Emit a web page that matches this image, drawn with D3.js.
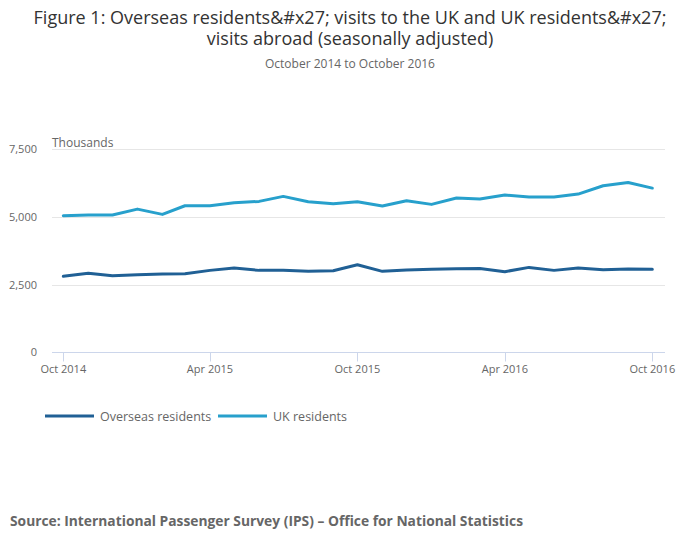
<!DOCTYPE html>
<html><head><meta charset="utf-8">
<script src="https://cdn.jsdelivr.net/npm/d3@7"></script>
<style>body{margin:0;background:#fff;font-family:"Open Sans",sans-serif;}</style>
</head><body><svg id="c" width="700" height="549"></svg>
<script>
const months = ["2014-10","2014-11","2014-12","2015-01","2015-02","2015-03","2015-04","2015-05","2015-06","2015-07","2015-08","2015-09","2015-10","2015-11","2015-12","2016-01","2016-02","2016-03","2016-04","2016-05","2016-06","2016-07","2016-08","2016-09","2016-10"];
const overseas = [2806,2917,2830,2867,2891,2904,3027,3113,3027,3027,2990,3015,3235,2990,3039,3064,3088,3100,2978,3137,3027,3113,3052,3076,3064];
const ukResidents = [5044,5070,5070,5290,5095,5415,5415,5525,5575,5760,5563,5490,5560,5402,5600,5465,5698,5661,5809,5735,5735,5846,6153,6276,6067];
const yTicks = [0,2500,5000,7500];
const xTickMonths = ["2014-10","2015-04","2015-10","2016-04","2016-10"];
const seriesNames = ["Overseas residents","UK residents"];
const colors = ["#206095","#27a0cc"];

const svg = d3.select("#c");
const parse = d3.timeParse("%Y-%m");
const dates = months.map(parse);
const x = d3.scaleTime().domain([dates[0], dates[dates.length-1]]).range([63.3, 652.3]);
const y = d3.scaleLinear().domain([0,7500]).range([352.3,149.3]);
const plotL = 52, plotR = 665;

// title
const titleLines = ["Figure 1: Overseas residents&#x27; visits to the UK and UK residents&#x27;","visits abroad (seasonally adjusted)"];
svg.append("g").selectAll("text").data(titleLines).join("text")
  .attr("x",350).attr("y",(d,i)=>24+i*21).attr("text-anchor","middle").attr("fill","#333").style("font-size","18px").text(d=>d);
svg.append("text").attr("x",350).attr("y",68).attr("text-anchor","middle").attr("fill","#666").style("font-size","12px").text("October 2014 to October 2016");

// grid
svg.append("g").selectAll("line").data(yTicks.filter(d=>d>0)).join("line")
  .attr("x1",plotL).attr("x2",plotR).attr("y1",d=>Math.round(y(d))+0.5).attr("y2",d=>Math.round(y(d))+0.5)
  .attr("stroke","#e6e6e6").attr("stroke-width",1);

// y labels
svg.append("g").selectAll("text").data(yTicks).join("text")
  .attr("x",37).attr("y",d=>y(d)+4).attr("text-anchor","end").attr("fill","#666").style("font-size","11px")
  .text(d=>d3.format(",")(d));
svg.append("text").attr("x",52).attr("y",147).attr("fill","#666").style("font-size","12px").text("Thousands");

// x axis
const xa = svg.append("g").attr("transform",`translate(0,${Math.round(y(0))+0.5})`);
xa.append("line").attr("x1",plotL).attr("x2",plotR).attr("stroke","#ccd6eb");
const xt = xTickMonths.map(parse);
xa.selectAll("line.t").data(xt).join("line").attr("class","t")
  .attr("x1",d=>Math.round(x(d))+0.5).attr("x2",d=>Math.round(x(d))+0.5).attr("y1",0).attr("y2",9).attr("stroke","#ccd6eb");
xa.selectAll("text").data(xt).join("text").attr("x",d=>x(d)).attr("y",20).attr("text-anchor","middle")
  .attr("fill","#666").style("font-size","11px").text(d3.timeFormat("%b %Y"));

// lines
const line = d3.line().x((d,i)=>x(dates[i])).y(d=>y(d));
[overseas, ukResidents].forEach((s,k)=>{
  svg.append("path").datum(s).attr("d",line).attr("fill","none").attr("stroke",colors[k])
    .attr("stroke-width",3).attr("stroke-linejoin","round").attr("stroke-linecap","round");
});

// legend
const legX = [45,218];
seriesNames.forEach((n,k)=>{
  svg.append("line").attr("x1",legX[k]).attr("x2",legX[k]+49).attr("y1",416).attr("y2",416).attr("stroke",colors[k]).attr("stroke-width",3);
  svg.append("text").attr("x",legX[k]+55).attr("y",420.5).attr("fill","#666").style("font-size","12.5px").text(n);
});

// source
svg.append("text").attr("x",10).attr("y",526).attr("fill","#666").style("font-size","13.8px").style("font-weight","bold")
  .text("Source: International Passenger Survey (IPS) – Office for National Statistics");
</script></body></html>
